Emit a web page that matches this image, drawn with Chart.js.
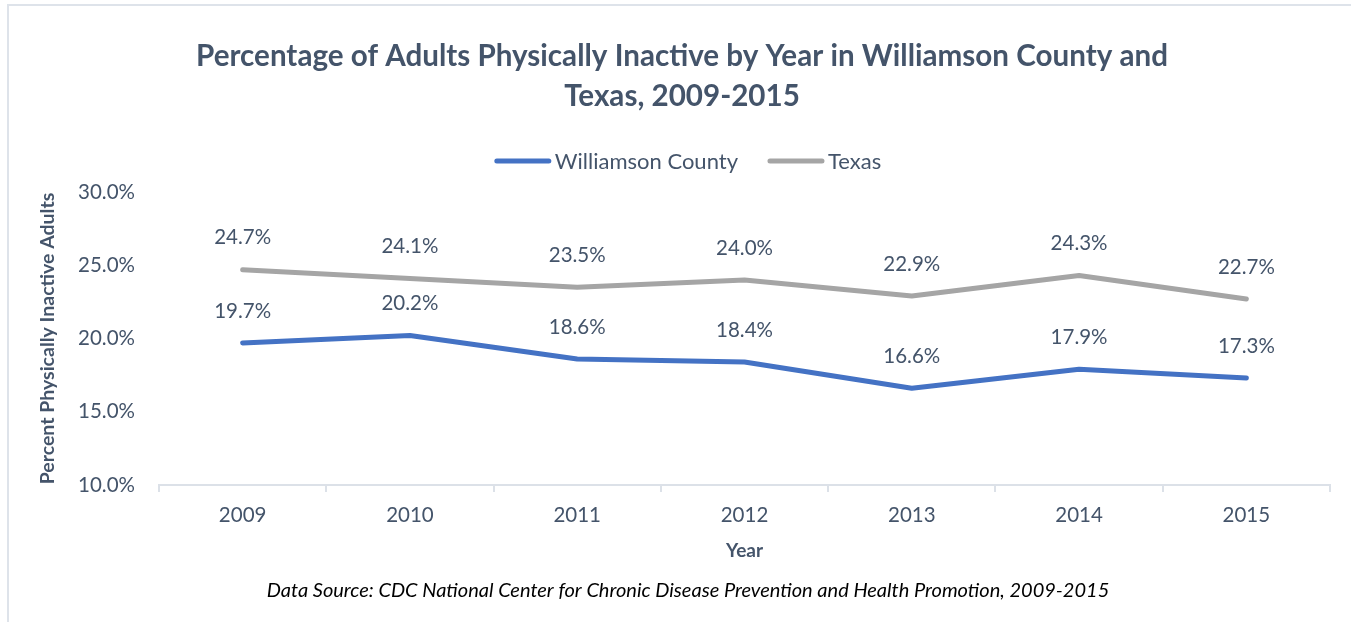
<!DOCTYPE html>
<html>
<head>
<meta charset="utf-8">
<script src="https://cdn.jsdelivr.net/npm/chart.js@4.4.1/dist/chart.umd.min.js"></script>
<style>
  html, body { margin: 0; padding: 0; background: #ffffff; }
  #frame {
    position: absolute; left: 7px; top: 4px; width: 1344px; height: 618px;
    border-left: 2px solid #DEE3EA; border-top: 2px solid #DEE3EA;
  }
  #wrap { position: absolute; left: 0; top: 0; width: 1351px; height: 622px; }
</style>
</head>
<body>
<div id="frame"></div>
<div id="wrap"><canvas id="c" width="1351" height="622"></canvas></div>
<script>
// Categories and series
const years = ['2009', '2010', '2011', '2012', '2013', '2014', '2015'];
const williamsonCounty = [19.7, 20.2, 18.6, 18.4, 16.6, 17.9, 17.3];
const texas = [24.7, 24.1, 23.5, 24.0, 22.9, 24.3, 22.7];
const yTickValues = [10, 15, 20, 25, 30];

const titleLines = [
  'Percentage of Adults Physically Inactive by Year in Williamson County and',
  'Texas, 2009-2015'
];
const sourceNote = 'Data Source: CDC National Center for Chronic Disease Prevention and Health Promotion, 2009-2015';

const FONT = 'Lato, "Open Sans", sans-serif';
const TEXT = '#44546A';
const BLUE = '#4472C4';
const GREY = '#A5A5A5';
const AXIS = '#DCE1E8';

// Title, legend and source note drawn around the plot
const decorations = {
  id: 'decorations',
  afterDraw(chart) {
    const ctx = chart.ctx;
    ctx.save();
    ctx.fillStyle = TEXT;
    ctx.textAlign = 'center';
    ctx.textBaseline = 'middle';
    ctx.font = 'bold 29.6px ' + FONT;
    ctx.fillText(titleLines[0], 682, 56);
    ctx.fillText(titleLines[1], 682, 96);

    // legend
    ctx.font = '22px ' + FONT;
    const items = chart.data.datasets.map(d => ({ label: d.label, color: d.borderColor }));
    const sample = 56, gapText = 4, gapItem = 30;
    const widths = items.map(it => sample + gapText + ctx.measureText(it.label).width);
    const total = widths.reduce((a, b) => a + b, 0) + gapItem * (items.length - 1);
    let x = 688 - total / 2;
    const ly = 161;
    items.forEach((it, i) => {
      ctx.strokeStyle = it.color;
      ctx.lineWidth = 5;
      ctx.lineCap = 'round';
      ctx.beginPath();
      ctx.moveTo(x + 2, ly);
      ctx.lineTo(x + sample - 2, ly);
      ctx.stroke();
      ctx.textAlign = 'left';
      ctx.fillStyle = TEXT;
      ctx.fillText(it.label, x + sample + gapText, ly + 1);
      x += widths[i] + gapItem;
    });

    // source note
    ctx.textAlign = 'center';
    ctx.fillStyle = '#000000';
    ctx.font = 'italic 20px ' + FONT;
    ctx.fillText(sourceNote, 688, 591);
    ctx.restore();
  }
};

// Value labels above each point
const valueLabels = {
  id: 'valueLabels',
  afterDatasetsDraw(chart) {
    const ctx = chart.ctx;
    ctx.save();
    ctx.fillStyle = TEXT;
    ctx.font = '20.5px ' + FONT;
    ctx.textAlign = 'center';
    ctx.textBaseline = 'middle';
    chart.data.datasets.forEach((ds, i) => {
      const meta = chart.getDatasetMeta(i);
      meta.data.forEach((pt, j) => {
        ctx.fillText(ds.data[j].toFixed(1) + '%', pt.x, pt.y - 32);
      });
    });
    ctx.restore();
  }
};

new Chart(document.getElementById('c'), {
  type: 'line',
  data: {
    labels: years,
    datasets: [
      {
        label: 'Williamson County', data: williamsonCounty,
        borderColor: BLUE, backgroundColor: BLUE, borderWidth: 5,
        borderCapStyle: 'round', borderJoinStyle: 'round',
        pointRadius: 0, pointHoverRadius: 0, tension: 0
      },
      {
        label: 'Texas', data: texas,
        borderColor: GREY, backgroundColor: GREY, borderWidth: 5,
        borderCapStyle: 'round', borderJoinStyle: 'round',
        pointRadius: 0, pointHoverRadius: 0, tension: 0
      }
    ]
  },
  options: {
    responsive: false,
    animation: false,
    devicePixelRatio: 1,
    layout: { padding: { left: 0, right: 21, top: 192, bottom: 60 } },
    plugins: {
      legend: { display: false },
      title: { display: false },
      tooltip: { enabled: false }
    },
    scales: {
      x: {
        offset: true,
        grid: {
          display: true, drawOnChartArea: false, drawTicks: true,
          tickLength: 7, color: AXIS, lineWidth: 2, offset: true
        },
        border: { display: true, color: AXIS, width: 2 },
        ticks: { color: TEXT, font: { family: FONT, size: 20.5 }, padding: 11, maxRotation: 0 },
        title: {
          display: true, text: 'Year', color: TEXT,
          font: { family: FONT, size: 19, weight: 'bold' },
          padding: { top: 0, bottom: 0 }
        },
        afterFit(scale) { scale.height = 77; }
      },
      y: {
        min: 10, max: 30,
        afterBuildTicks(scale) { scale.ticks = yTickValues.map(v => ({ value: v })); },
        grid: { display: false, drawTicks: false },
        border: { display: false },
        ticks: {
          color: TEXT, font: { family: FONT, size: 20.5 }, padding: 24,
          callback: v => Number(v).toFixed(1) + '%'
        },
        title: {
          display: true, text: 'Percent Physically Inactive Adults', color: TEXT,
          font: { family: FONT, size: 19.5, weight: 'bold' },
          padding: { top: 36, bottom: 0 }
        },
        afterFit(scale) { scale.width = 159; }
      }
    }
  },
  plugins: [valueLabels, decorations]
});
</script>
</body>
</html>
